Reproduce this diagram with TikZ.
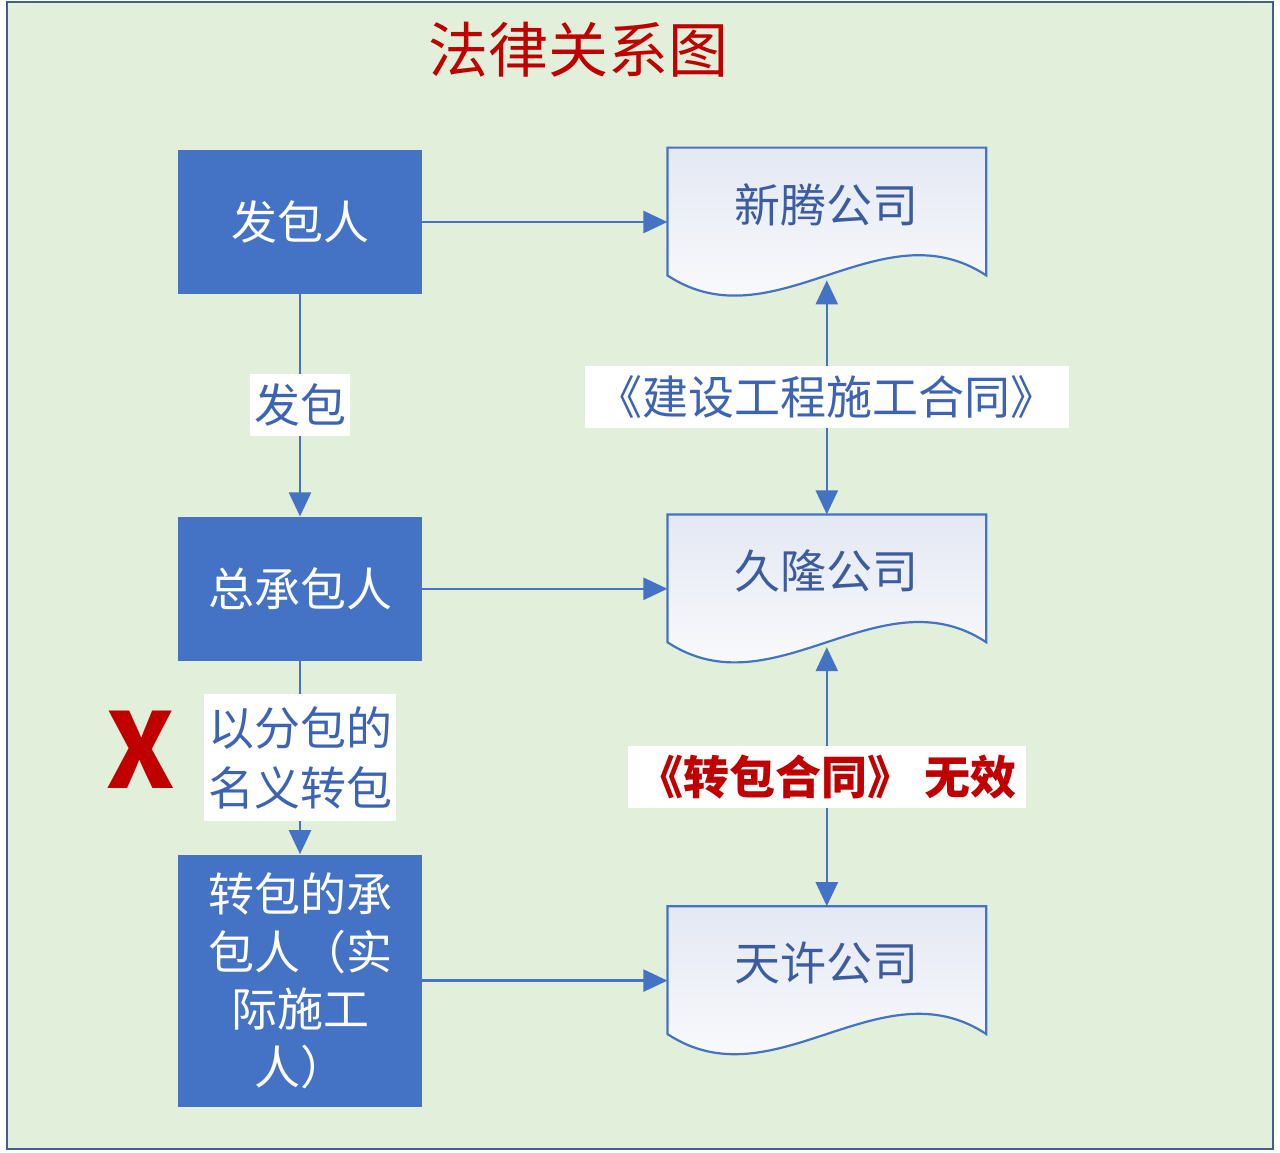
\documentclass[tikz,border=0pt]{standalone}
\usepackage{fontspec}
\setmainfont{Noto Sans CJK SC}
\usetikzlibrary{arrows.meta,positioning,backgrounds}
\definecolor{boxBlue}{RGB}{68,114,196}
\definecolor{lineBlue}{RGB}{68,114,196}
\definecolor{docBlue}{RGB}{60,92,160}
\definecolor{tagBlue}{RGB}{61,100,180}
\definecolor{paperGreen}{RGB}{226,239,218}
\definecolor{frameBlue}{RGB}{65,96,145}
\definecolor{lawRed}{RGB}{192,0,0}
\definecolor{docTint}{RGB}{228,232,243}

% outline of a document shape around node #1
\newcommand{\docwave}[1]{%
  \draw[docline] (#1.north west) -- (#1.north east)
    -- ([yshift=10.5pt]#1.south east)
    .. controls +(-53pt,35pt) and +(53pt,-35pt) ..
    ([yshift=10.5pt]#1.south west) -- cycle;}

\begin{document}
\begin{tikzpicture}[
  x=0.5pt, y=-0.5pt,
  box/.style={rectangle, fill=boxBlue, text=white, inner sep=0pt,
              minimum width=122pt, minimum height=72pt,
              font=\fontsize{23}{28.75}\selectfont, align=center},
  doc/.style={rectangle, inner sep=0pt, minimum width=159pt,
              minimum height=74pt, text height=12pt, text depth=12pt,
              text=docBlue, font=\fontsize{23}{28}\selectfont},
  docline/.style={draw=lineBlue, line width=1.1pt, top color=docTint,
                  bottom color=white},
  tag/.style={fill=white, text=tagBlue, inner xsep=2pt, inner ysep=3pt,
              font=\fontsize{23}{30}\selectfont, align=center},
  arr/.style={-{Triangle[length=12pt,width=11pt]}, line width=1.25pt, lineBlue},
  dbl/.style={{Triangle[length=12pt,width=11pt]}-{Triangle[length=12pt,width=11pt]},
              line width=1.25pt, lineBlue}
]
  \useasboundingbox (0,0) rectangle (1280,1152);
  \node[text=lawRed, font=\fontsize{30}{30}\selectfont] (title) at (578,50) {法律关系图};

  % left column
  \node[box] (fbr) at (300,222) {发包人};
  \node[box, below=111pt of fbr] (zcb) {总承包人};
  \node[box, below=96.5pt of zcb, minimum height=126pt] (zbr)
    {转包的承\\包人（实\\际施工\\人）};

  % right column
  \node[doc, right=122.5pt of fbr] (xt) {新腾公司};
  \node[doc, right=122.5pt of zcb] (jl) {久隆公司};
  \node[doc, right=122.5pt of zbr] (tx) {天许公司};

  \begin{scope}[on background layer]
    \draw[frameBlue, line width=1.2pt, fill=paperGreen] (7,2) rectangle (1273,1149);
    \foreach \d in {xt,jl,tx}
      \docwave{\d};
  \end{scope}

  \foreach \a/\b in {fbr/xt,zcb/jl,zbr/tx}
    \draw[arr] (\a.east) -- (\b.west);
  \draw[arr] (fbr) -- node[tag, minimum height=31pt] (fb) {发包} (zcb);
  \draw[arr] (zcb) -- node[tag, minimum height=63.5pt] (fbmy)
    {以分包的\\名义转包} (zbr);
  \draw[dbl] ([yshift=8pt]xt.south) -- node[tag, minimum height=31pt,
    inner xsep=6pt] (jsht) {《建设工程施工合同》} (jl.north);
  \draw[dbl] ([yshift=8pt]jl.south) -- node[tag, minimum height=31pt,
    inner xsep=5pt, text=lawRed, font=\fontsize{23}{28}\selectfont\bfseries]
    (zbht) {《转包合同》 无效} (tx.north);

  \node[text=lawRed, font=\fontsize{52}{52}\selectfont\bfseries] (cross)
    at (141,750) {X};
\end{tikzpicture}
\end{document}
